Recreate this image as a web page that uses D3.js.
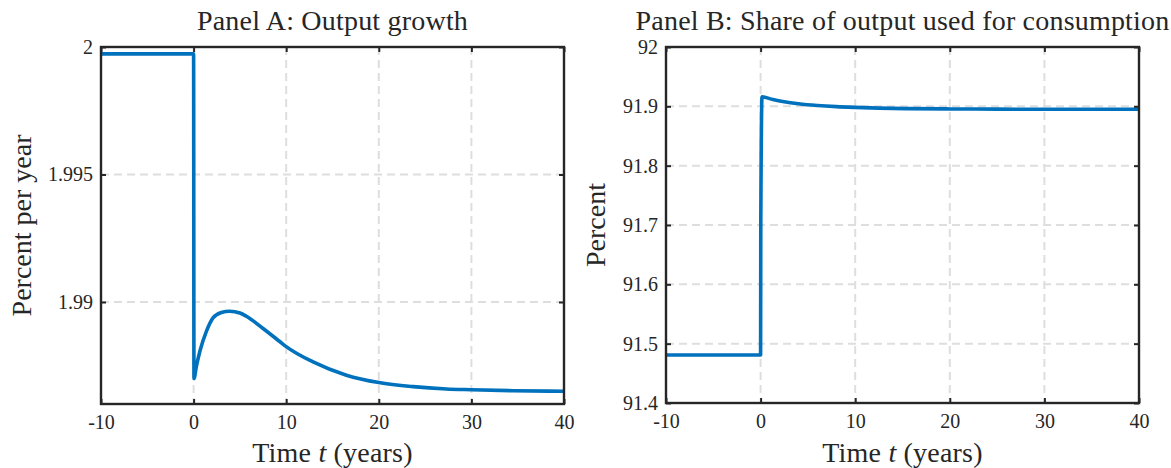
<!DOCTYPE html>
<html>
<head>
<meta charset="utf-8">
<script src="https://cdn.jsdelivr.net/npm/d3@7"></script>
<style>
body { margin: 0; background: #fff; }
svg text { font-family: 'Liberation Serif', 'DejaVu Serif', serif; fill: #262626; }
</style>
</head>
<body>
<svg id="chart" width="1171" height="468"></svg>
<script>
var WIDTH = 1171;
var HEIGHT = 468;

// time axis, shared by both panels
var xTicks = [-10, 0, 10, 20, 30, 40];
var xTickLabels = ["-10", "0", "10", "20", "30", "40"];

// Panel A: output growth, percent per year
var timeA = [-10, 0, 0.04, 0.3, 0.7, 1.4, 2.1, 3, 3.9, 5, 5.7, 7.5, 9.3, 10, 12.9, 16.5, 20, 23.7, 27.3, 30, 34.5, 40];
var growthA = [1.99973, 1.99973, 1.98700, 1.98748, 1.98810, 1.98887, 1.98938, 1.98959, 1.98964, 1.98957, 1.98944, 1.98896,
    1.98845, 1.98825, 1.98765, 1.98713, 1.98684, 1.98668, 1.98659, 1.98656, 1.98652, 1.98650];
var yTicksA = [1.99, 1.995, 2];
var yTickLabelsA = ["1.99", "1.995", "2"];

// Panel B: share of output used for consumption, percent
var timeB = [-10, 0, 0.02, 0.15, 1.3, 2.5, 4, 6, 8, 10, 12.5, 15.5, 20, 25, 30, 40];
var shareB = [91.481, 91.481, 91.70, 91.916, 91.9115, 91.9078, 91.9045, 91.9015, 91.8995, 91.8982, 91.8970, 91.8962,
    91.8956, 91.8953, 91.8951, 91.8950];
var yTicksB = [91.4, 91.5, 91.6, 91.7, 91.8, 91.9, 92];
var yTickLabelsB = ["91.4", "91.5", "91.6", "91.7", "91.8", "91.9", "92"];

var LINE_COLOR = "#0072BD";
var AXIS_COLOR = "#262626";
var GRID_COLOR = "#dedede";

var svg = d3.select("#chart")
    .attr("width", WIDTH)
    .attr("height", HEIGHT)
    .style("background-color", "white");

function drawPanel(p) {
    var x = d3.scaleLinear().domain([-10, 40]).range([p.left, p.right]);
    var y = d3.scaleLinear().domain(p.yDomain).range([p.bottom, p.top]);

    var g = svg.append("g");

    // dashed grid
    g.append("g").selectAll("line")
        .data(xTicks)
        .enter().append("line")
        .attr("x1", d => x(d)).attr("x2", d => x(d))
        .attr("y1", p.top).attr("y2", p.bottom)
        .attr("stroke", GRID_COLOR)
        .attr("stroke-width", 2)
        .attr("stroke-dasharray", "8,5");
    g.append("g").selectAll("line")
        .data(p.yTicks)
        .enter().append("line")
        .attr("x1", p.left).attr("x2", p.right)
        .attr("y1", d => y(d)).attr("y2", d => y(d))
        .attr("stroke", GRID_COLOR)
        .attr("stroke-width", 2)
        .attr("stroke-dasharray", "8,5");

    var pts = p.xs.map(function(t, i) { return [t, p.ys[i]]; });
    var line = d3.line()
        .x(d => x(d[0]))
        .y(d => y(d[1]))
        .curve(d3.curveMonotoneX);
    g.append("path")
        .datum(pts)
        .attr("d", line)
        .attr("fill", "none")
        .attr("stroke", LINE_COLOR)
        .attr("stroke-width", 3.6)
        .attr("stroke-linejoin", "round");

    // axes with inward ticks on all four sides
    var bottom = g.append("g")
        .attr("transform", "translate(0," + p.bottom + ")")
        .call(d3.axisBottom(x).tickValues(xTicks).tickSize(-5).tickPadding(11)
            .tickFormat((d, i) => xTickLabels[i]));
    var top = g.append("g")
        .attr("transform", "translate(0," + p.top + ")")
        .call(d3.axisTop(x).tickValues(xTicks).tickSize(-5).tickFormat(""));
    var left = g.append("g")
        .attr("transform", "translate(" + p.left + ",0)")
        .call(d3.axisLeft(y).tickValues(p.yTicks).tickSize(-5).tickPadding(8)
            .tickFormat((d, i) => p.yTickLabels[i]));
    var right = g.append("g")
        .attr("transform", "translate(" + p.right + ",0)")
        .call(d3.axisRight(y).tickValues(p.yTicks).tickSize(-5).tickFormat(""));

    [bottom, top, left, right].forEach(function(a) {
        a.attr("font-family", null).attr("font-size", null);
        a.select(".domain").remove();
        a.selectAll(".tick line").attr("stroke", AXIS_COLOR).attr("stroke-width", 2);
        a.selectAll(".tick text")
            .attr("font-size", 20)
            .attr("fill", AXIS_COLOR);
    });

    g.append("rect")
        .attr("x", p.left).attr("y", p.top)
        .attr("width", p.right - p.left)
        .attr("height", p.bottom - p.top)
        .attr("fill", "none")
        .attr("stroke", AXIS_COLOR)
        .attr("stroke-width", 2.4);

    // title and labels
    var cx = (p.left + p.right) / 2;
    g.append("text")
        .attr("x", cx).attr("y", 30)
        .attr("text-anchor", "middle")
        .attr("font-size", 28)
        .attr("letter-spacing", 0.2)
        .text(p.title);

    var xl = g.append("text")
        .attr("x", cx).attr("y", 462)
        .attr("text-anchor", "middle")
        .attr("font-size", 28)
        .attr("letter-spacing", 0.2);
    xl.append("tspan").text("Time ");
    xl.append("tspan").attr("font-style", "italic").text("t");
    xl.append("tspan").text(" (years)");

    g.append("text")
        .attr("transform", "translate(" + p.ylabelX + "," + ((p.top + p.bottom) / 2) + ") rotate(-90)")
        .attr("text-anchor", "middle")
        .attr("font-size", 28)
        .text(p.ylabel);
}

drawPanel({
    left: 101, right: 564, top: 47, bottom: 404,
    yDomain: [1.986, 2],
    yTicks: yTicksA, yTickLabels: yTickLabelsA,
    xs: timeA, ys: growthA,
    title: "Panel A: Output growth",
    ylabel: "Percent per year", ylabelX: 31
});

drawPanel({
    left: 666, right: 1139, top: 47, bottom: 403,
    yDomain: [91.4, 92],
    yTicks: yTicksB, yTickLabels: yTickLabelsB,
    xs: timeB, ys: shareB,
    title: "Panel B: Share of output used for consumption",
    ylabel: "Percent", ylabelX: 605
});
</script>
</body>
</html>
